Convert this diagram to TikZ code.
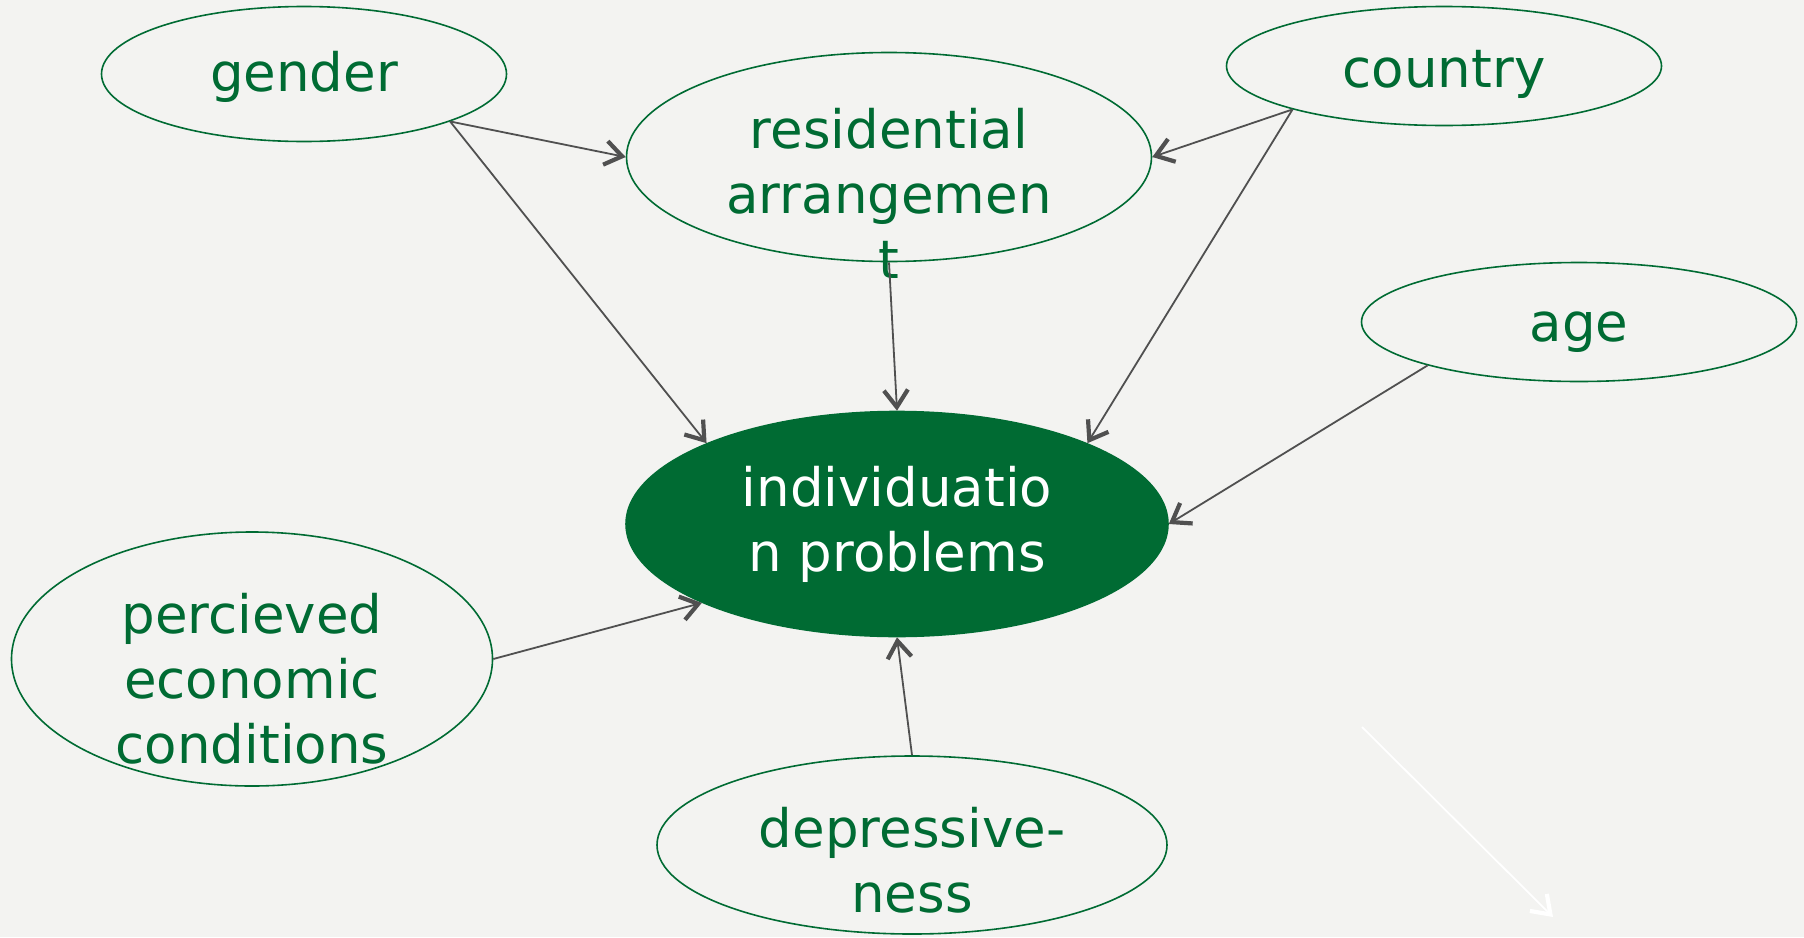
\documentclass[tikz,border=0pt]{standalone}
\usepackage{fontspec}
\setmainfont{DejaVu Sans}
\usetikzlibrary{arrows.meta,shapes.geometric}
\definecolor{bgcol}{HTML}{F3F3F1}
\definecolor{grn}{HTML}{006B33}
\definecolor{edgecol}{HTML}{505050}
\tikzset{
  var/.style={ellipse, draw=grn, line width=1.6pt, inner sep=0pt, text=grn,
    font=\fontsize{53}{65}\selectfont, align=center},
  lbl/.style={text=grn, inner sep=0pt, font=\fontsize{53}{65}\selectfont, align=center},
  link/.style={draw=edgecol, line width=1.8pt,
    -{Straight Barb[length=17pt,width=24pt,line width=4.2pt]}}
}
\begin{document}
\begin{tikzpicture}[x=1pt,y=-1pt]
	\fill[bgcol] (0,0) rectangle (1804,937);
	\useasboundingbox (0,0) rectangle (1804,937);
	% variables
	\node[var, minimum width=405pt, minimum height=135pt] (gen) at (304,74) {};
	\node[var, minimum width=525pt, minimum height=209pt] (res) at (889,157) {};
	\node[var, minimum width=435pt, minimum height=119pt] (cty) at (1444,66) {};
	\node[var, minimum width=435pt, minimum height=119pt] (age) at (1579,322) {};
	\node[var, fill=grn, text=white, minimum width=542pt, minimum height=225pt] (ind) at (897,524) {individuatio\\n problems};
	\node[var, minimum width=481pt, minimum height=254pt] (eco) at (252,659) {};
	\node[var, minimum width=510pt, minimum height=178pt] (dep) at (912,845) {};
	\node[lbl] (gen-t) at ([yshift=-3pt]gen.center) {gender};
	\node[lbl] (cty-t) at ([yshift=-8pt]cty.center) {country};
	\node[lbl] (age-t) at ([yshift=-10pt]age.center) {age};
	\node[lbl] (res-t) at ([yshift=-36pt]res.center) {residential\\arrangemen\\t};
	\node[lbl] (eco-t) at ([yshift=-20pt]eco.center) {percieved\\economic\\conditions};
	\node[lbl] (dep-t) at ([yshift=-15pt]dep.center) {depressive-\\ness};
	% effects
	\draw[link] (gen.-18) -- (res.west);
	\draw[link] (gen.-18) -- (ind.157);
	\draw[link] (res.south) -- (ind.north);
	\draw[link] (cty.196) -- (res.east);
	\draw[link] (cty.196) -- (ind.23);
	\draw[link] (age.196) -- (ind.east);
	\draw[link] (eco.east) -- (ind.202);
	\draw[link] (dep.north) -- (ind.south);
	\coordinate (w1) at (1362,727);
	\coordinate (w2) at (1553,917);
	\draw[link, draw=white] (w1) -- (w2);
\end{tikzpicture}
\end{document}
